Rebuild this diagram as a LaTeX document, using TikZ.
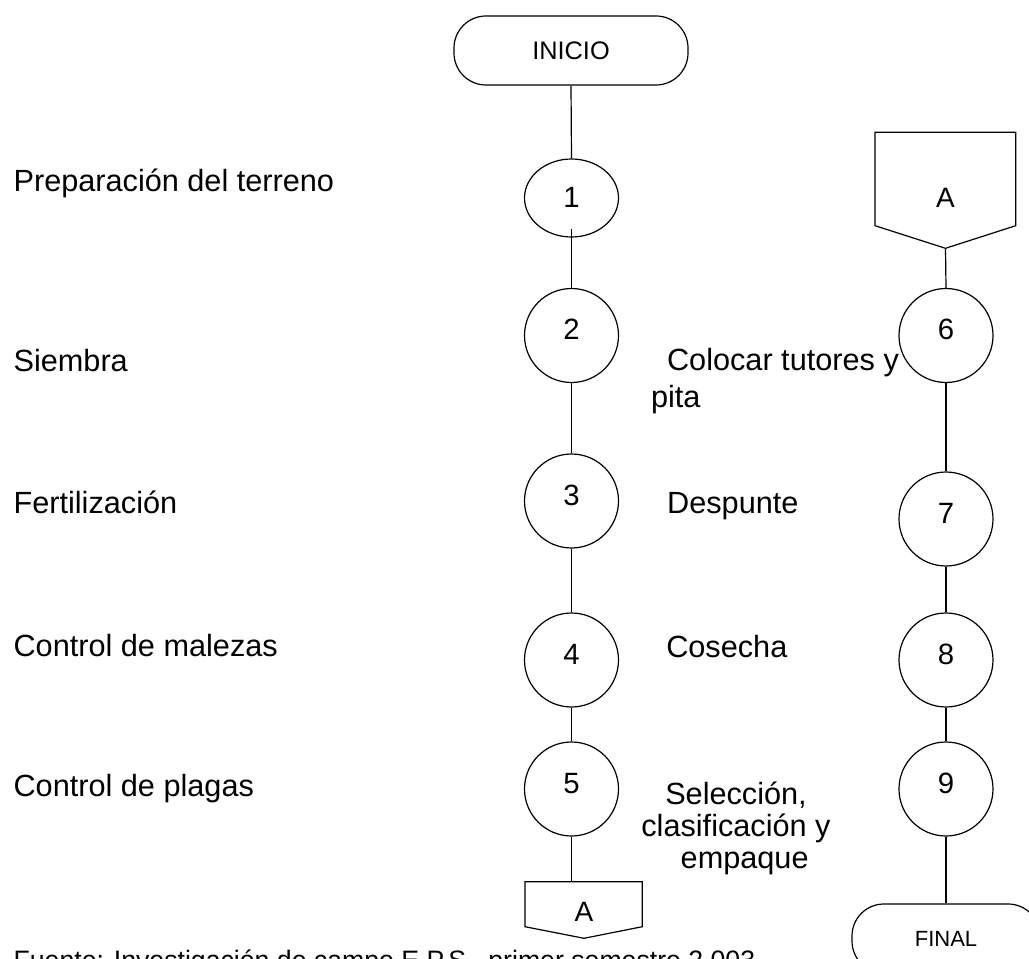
\documentclass[tikz,border=0pt]{standalone}
\usepackage{fontspec}
\setmainfont{Liberation Sans}
\usetikzlibrary{shapes.geometric}
\begin{document}
\begin{tikzpicture}[x=0.75pt,y=-0.75pt,line width=0.9pt,
  proc/.style={ellipse,draw,minimum width=70.5pt,minimum height=70.5pt,inner sep=0pt,
    font=\fontsize{22pt}{26pt}\selectfont,text height=12pt,text depth=5.25pt},
  term/.style={draw,rounded corners=24pt,inner sep=0pt},
  lbl/.style={anchor=base west,inner sep=0pt,font=\fontsize{23pt}{27.75pt}\selectfont},
  conn/.style={draw},
  offpage/.style={draw,line join=miter}]
\useasboundingbox (0,0) rectangle (1029,959);
\clip (0,0) rectangle (1029,959);

% terminals
\node[term,minimum width=175.5pt,minimum height=51.75pt,font=\fontsize{19pt}{22pt}\selectfont] (inicio) at (571,50.5) {INICIO};
\node[term,minimum width=141pt,minimum height=51.75pt,font=\fontsize{16.5pt}{20pt}\selectfont] (final) at (946,938.5) {FINAL};

% left column
\node[proc,minimum height=58.5pt,text height=15pt,text depth=0.75pt] (c1) at (571.5,198) {1};
\node[proc] (c2) at (571.5,335.5) {2};
\node[proc] (c3) at (571.5,501) {3};
\node[proc] (c4) at (571.5,660) {4};
\node[proc] (c5) at (571.5,789) {5};

% right column
\node[proc] (c6) at (946,335.5) {6};
\node[proc] (c7) at (946,519) {7};
\node[proc] (c8) at (946,660) {8};
\node[proc] (c9) at (946,789) {9};

% off-page connector (top right)
\coordinate (atl) at (875,132.3);
\coordinate (atr) at (1015.7,132.3);
\coordinate (atip) at (945.5,248.3);
\draw[offpage] (atl) -- (atr) -- (1015.7,225.7) -- (atip) -- (875,225.7) -- cycle;
\node[font=\fontsize{21pt}{24pt}\selectfont,inner sep=0pt] (atxt) at (945.5,198) {A};

% off-page connector (bottom left)
\coordinate (abtop) at (584,881.7);
\coordinate (abtip) at (584,938.3);
\draw[offpage] (525,881.7) -- (642.3,881.7) -- (642.3,926.7) -- (abtip) -- (525,926.7) -- cycle;
\node[font=\fontsize{21pt}{24pt}\selectfont,inner sep=0pt] (abtxt) at (584,911.7) {A};

% connectors
\draw[conn] (inicio.south) -- (c1.north);
\draw[conn] ([yshift=6.75pt]c1.south) -- (c2.north);
\draw[conn] (c2.south) -- (c3.north);
\draw[conn] (c3.south) -- (c4.north);
\draw[conn] (c4.south) -- (c5.north);
\draw[conn] (c5.south) -- (c5.south |- abtop);
\draw[conn] (atip) -- (c6.north);
\draw[conn] (c6.south) -- (c7.north);
\draw[conn] (c7.south) -- (c8.north);
\draw[conn] (c8.south) -- (c9.north);
\draw[conn] (c9.south) -- (final.north);

% left labels
\node[lbl] (l1) at (13,192) {Preparación del terreno};
\node[lbl] (l2) at (13,372) {Siembra};
\node[lbl] (l3) at (13,513) {Fertilización};
\node[lbl] (l4) at (13,656) {Control de malezas};
\node[lbl] (l5) at (13,796) {Control de plagas};

% right labels
\node[lbl,align=left] (l6) at (650.5,407) {\hspace*{12pt}Colocar tutores y\\pita};
\node[lbl] (l7) at (666.6,513) {Despunte};
\node[lbl] (l8) at (665.7,657) {Cosecha};
\node[lbl,anchor=base,align=center,font=\fontsize{23pt}{24pt}\selectfont] (l9) at (736,868)
  {Selección,\\clasificación y\\\hspace*{13pt}empaque};

% source
\node[anchor=base west,inner sep=0pt,font=\fontsize{20pt}{24pt}\selectfont] (src) at (13,969)
  {Fuente: Investigación de campo E.P.S., primer semestre 2.003};
\end{tikzpicture}
\end{document}
